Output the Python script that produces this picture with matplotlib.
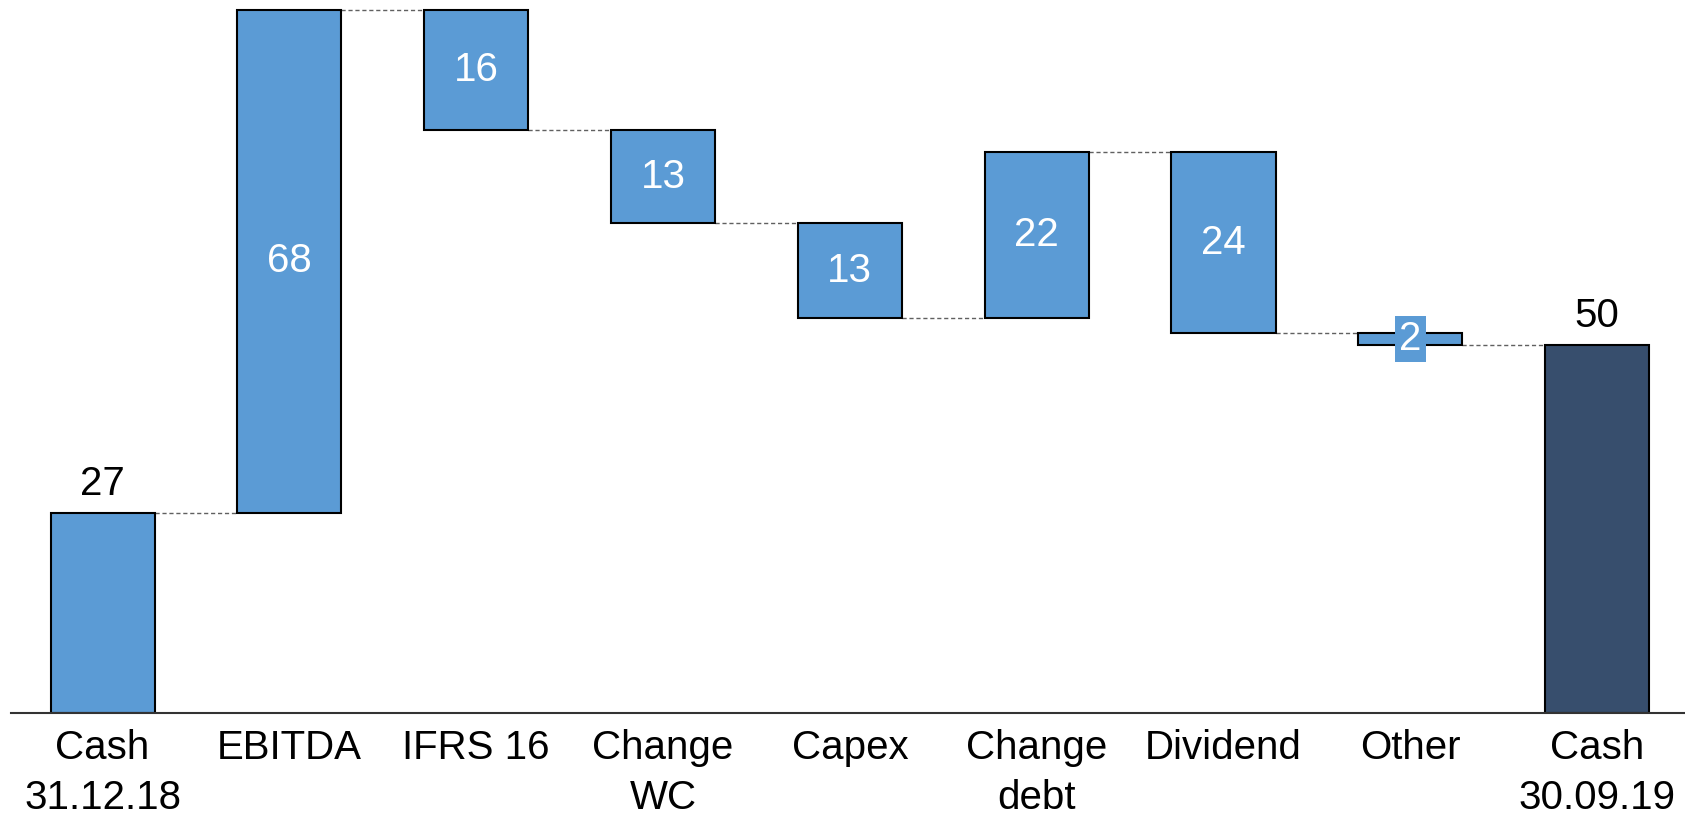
import matplotlib
matplotlib.use('Agg')
import matplotlib.pyplot as plt
import numpy as np

plt.rcParams['font.family'] = ['Liberation Sans', 'DejaVu Sans']

# data
categories = ['Cash\n31.12.18', 'EBITDA', 'IFRS 16', 'Change\nWC', 'Capex',
              'Change\ndebt', 'Dividend', 'Other', 'Cash\n30.09.19']
start_value = 27.0
changes = [68.0, -16.3, -12.6, -12.8, 22.4, -24.4, -1.6]

blue = '#5B9BD5'
dark = '#374E6D'

levels = np.concatenate([[start_value], start_value + np.cumsum(changes)])
end_value = levels[-1]

fig = plt.figure(figsize=(16.85, 8.16), dpi=100)
ax = fig.add_axes([11 / 1685, 0.1268, 1 - 11 / 1685, 0.8732])
width = 0.557
x = np.arange(len(categories))

# first and last totals
ax.bar(x[0], start_value, width, color=blue, edgecolor='black', linewidth=1.5, zorder=2)
ax.bar(x[-1], end_value, width, color=dark, edgecolor='black', linewidth=1.5, zorder=2)
ax.text(x[0], start_value + 1.3, f'{start_value:.0f}', ha='center', va='bottom', fontsize=29)
ax.text(x[-1], end_value + 1.3, f'{end_value:.0f}', ha='center', va='bottom', fontsize=29)

# floating bars
for i, d in enumerate(changes):
    xi = x[i + 1]
    bottom = levels[i] if d > 0 else levels[i + 1]
    ax.bar(xi, abs(d), width, bottom=bottom, color=blue, edgecolor='black', linewidth=1.5, zorder=2)
    mid = bottom + abs(d) / 2
    if abs(d) < 4:
        ax.text(xi, mid, f'{abs(d):.0f}', ha='center', va='center', fontsize=29, color='white',
                zorder=3, bbox=dict(boxstyle='square,pad=0.1', facecolor=blue, edgecolor='none'))
    else:
        ax.text(xi, mid, f'{abs(d):.0f}', ha='center', va='center', fontsize=29, color='white', zorder=3)

# connector lines
for i in range(len(levels)):
    ax.plot([x[i] + width / 2, x[i + 1] - width / 2], [levels[i], levels[i]],
            color='#606060', linestyle=(0, (3, 2)), linewidth=1.0, zorder=1)

ax.set_xlim(-0.49, 8.47)
ax.set_ylim(0, 96.3)
ax.set_xticks(x)
ax.set_xticklabels(categories, fontsize=29, linespacing=1.38)
ax.tick_params(axis='x', length=0, pad=12)
ax.set_yticks([])
for s in ['top', 'right', 'left']:
    ax.spines[s].set_visible(False)
ax.spines['bottom'].set_linewidth(1.5)
ax.spines['bottom'].set_color('#333333')

fig.savefig('out.png', dpi=100)
